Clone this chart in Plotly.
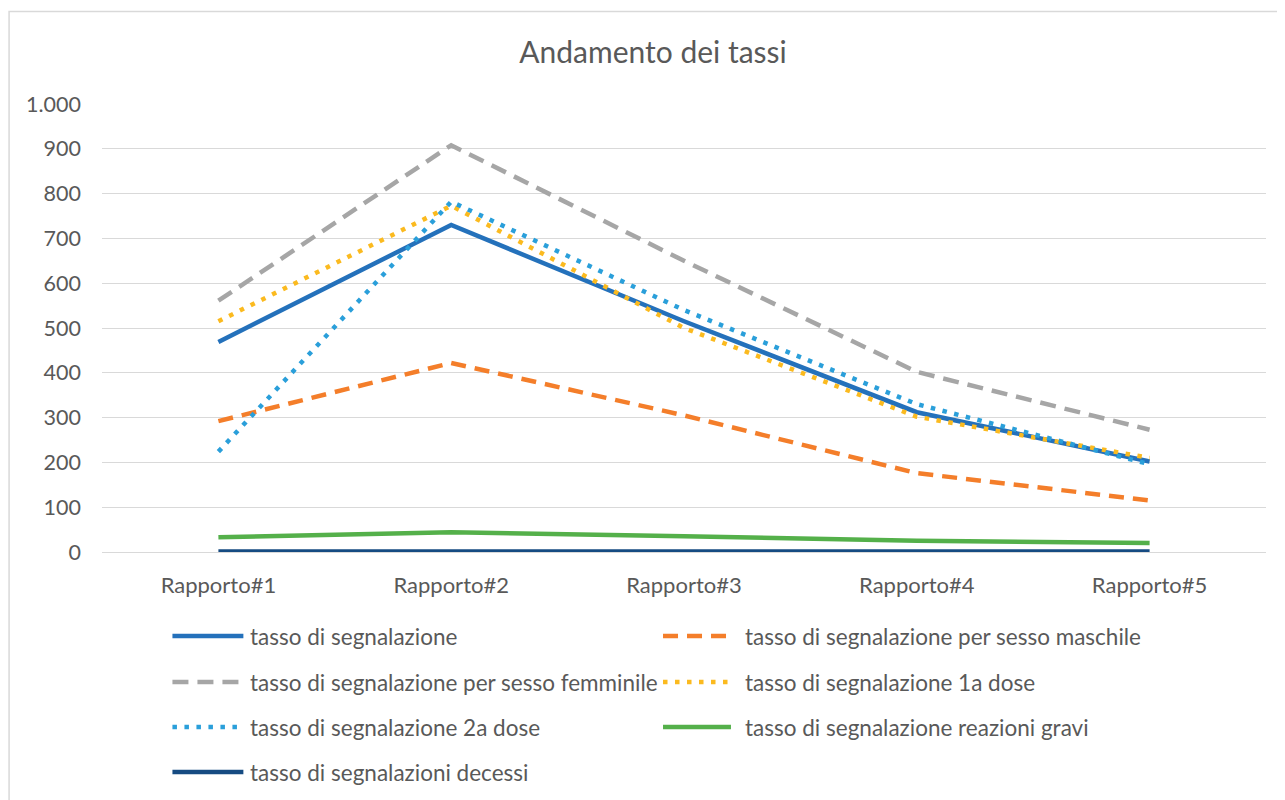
import plotly.graph_objects as go

categories = ["Rapporto#1", "Rapporto#2", "Rapporto#3", "Rapporto#4", "Rapporto#5"]

series_names = [
    "tasso di segnalazione",
    "tasso di segnalazione per sesso maschile",
    "tasso di segnalazione per sesso femminile",
    "tasso di segnalazione 1a dose",
    "tasso di segnalazione 2a dose",
    "tasso di segnalazione reazioni gravi",
    "tasso di segnalazioni decessi",
]

tasso_segnalazione = [469, 730, 515, 312, 202]
tasso_maschile = [292, 422, 305, 176, 115]
tasso_femminile = [561, 908, 650, 402, 273]
tasso_1a_dose = [515, 773, 500, 302, 210]
tasso_2a_dose = [224, 782, 540, 330, 196]
tasso_reazioni_gravi = [33, 44, 35, 25, 20]
tasso_decessi = [1, 1, 1, 1, 1]

series_values = [
    tasso_segnalazione, tasso_maschile, tasso_femminile, tasso_1a_dose,
    tasso_2a_dose, tasso_reazioni_gravi, tasso_decessi,
]

styles = [
    dict(color="#2471BB", width=4.5, dash="solid"),
    dict(color="#F47E2A", width=4.5, dash="15px,9px"),
    dict(color="#A6A6A6", width=4.5, dash="16px,9px"),
    dict(color="#FBBA1F", width=4.5, dash="4.5px,7.5px"),
    dict(color="#2A9FDA", width=4.5, dash="4.5px,7.5px"),
    dict(color="#54B04A", width=4.5, dash="solid"),
    dict(color="#164B82", width=4.5, dash="solid"),
]

# page offset (body margin of the html page)
OFF = 8
W, H = 1285 - OFF, 800 - OFF
# plot area in page pixels
L, R, T, B = 101.5 - OFF, 1266.5 - OFF, 104 - OFF, 552 - OFF
FONT = "Lato"
GREY_TXT = "#595959"


def px_x(p):
    """page pixel x -> paper coordinate"""
    return (p - OFF - L) / (R - L)


def px_y(p):
    """page pixel y -> paper coordinate"""
    return (B - (p - OFF)) / (B - T)


fig = go.Figure()
for name, vals, st in zip(series_names, series_values, styles):
    fig.add_trace(go.Scatter(
        x=categories, y=vals, name=name, mode="lines",
        line=dict(color=st["color"], width=st["width"], dash=st["dash"]),
        showlegend=False,
    ))

# manual legend (two columns), positions in page pixels
col_line = [(172, 243), (663, 731)]
col_text = [248, 743]
rows = [636, 682, 727, 772]
shapes = []
annotations = []
for i, (name, st) in enumerate(zip(series_names, styles)):
    c = i % 2
    r = i // 2
    y = px_y(rows[r])
    shapes.append(dict(
        type="line", xref="paper", yref="paper",
        x0=px_x(col_line[c][0]), x1=px_x(col_line[c][1]), y0=y, y1=y,
        line=dict(color=st["color"], width=st["width"], dash=st["dash"]),
    ))
    annotations.append(dict(
        xref="paper", yref="paper", x=px_x(col_text[c]), y=y,
        xanchor="left", yanchor="middle", showarrow=False,
        text=name, font=dict(family=FONT, size=22.5, color=GREY_TXT),
    ))

# chart border
shapes.append(dict(
    type="rect", xref="paper", yref="paper",
    x0=px_x(8.5), x1=px_x(1310), y0=px_y(830), y1=px_y(11.5),
    line=dict(color="#D9D9D9", width=1.5), fillcolor="rgba(0,0,0,0)", layer="below",
))

fig.update_layout(
    width=W, height=H,
    margin=dict(l=L, r=W - R, t=T, b=H - B, pad=0),
    paper_bgcolor="white", plot_bgcolor="white",
    separators=",.",
    title=dict(
        text="Andamento dei tassi", x=px_x(653), xref="paper",
        y=1 - (52 - OFF) / H, yref="container", xanchor="center", yanchor="middle",
        font=dict(family=FONT, size=30, color=GREY_TXT),
    ),
    xaxis=dict(
        type="category", range=[-0.5, 4.5], showgrid=False, zeroline=False,
        showline=False, ticks="", ticklabelstandoff=18,
        tickfont=dict(family=FONT, size=22, color=GREY_TXT),
    ),
    yaxis=dict(
        range=[0, 1000], dtick=100, tickformat=",d", showgrid=True,
        gridcolor="#D9D9D9", gridwidth=1.3, zeroline=True, zerolinecolor="#D9D9D9",
        zerolinewidth=1.3, showline=False, ticks="", ticklabelstandoff=20,
        tickfont=dict(family=FONT, size=21.5, color=GREY_TXT),
    ),
    shapes=shapes,
    annotations=annotations,
    showlegend=False,
)

fig.write_html("out.html")
